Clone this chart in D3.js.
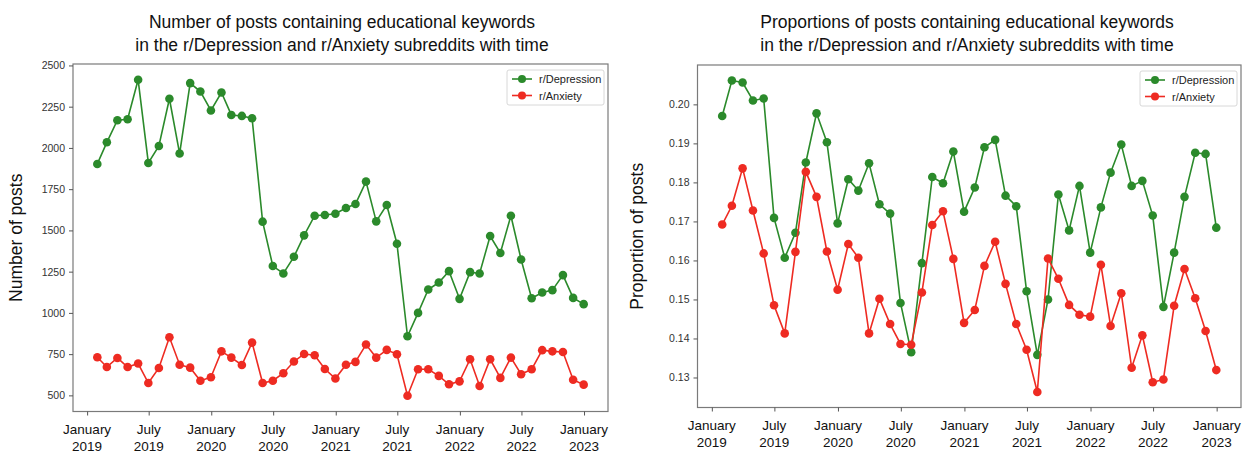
<!DOCTYPE html>
<html><head><meta charset="utf-8">
<script src="https://cdn.jsdelivr.net/npm/d3@7"></script>
<style>
body{margin:0;background:#fff;}
text{font-family:"Liberation Sans",Arial,sans-serif;}
</style></head>
<body><svg id="c" width="1248" height="453"></svg>
<script>
const seriesNames = ["r/Depression","r/Anxiety"];
const countDepression = [1903,2034,2168,2174,2413,1909,2012,2298,1966,2393,2342,2227,2336,2200,2194,2180,1553,1284,1239,1340,1470,1589,1593,1601,1636,1660,1796,1555,1654,1419,858,1000,1142,1184,1253,1085,1247,1239,1466,1363,1589,1324,1089,1124,1138,1229,1091,1053];
const countAnxiety = [731,672,727,672,693,575,666,852,686,668,589,610,767,729,684,820,575,589,634,705,751,743,660,602,686,703,808,729,776,749,498,658,658,618,567,585,719,557,719,606,729,628,658,774,767,763,595,565];
const propDepression = [0.1970,0.2061,0.2056,0.2010,0.2015,0.1709,0.1607,0.1671,0.1851,0.1977,0.1903,0.1695,0.1808,0.1779,0.1849,0.1744,0.1720,0.1491,0.1365,0.1593,0.1814,0.1798,0.1879,0.1725,0.1787,0.1890,0.1909,0.1766,0.1739,0.1521,0.1358,0.1500,0.1769,0.1677,0.1791,0.1620,0.1736,0.1825,0.1897,0.1791,0.1804,0.1715,0.1481,0.1620,0.1763,0.1876,0.1873,0.1684];
const propAnxiety = [0.1692,0.1740,0.1836,0.1728,0.1618,0.1485,0.1413,0.1622,0.1827,0.1763,0.1623,0.1525,0.1642,0.1607,0.1413,0.1502,0.1437,0.1386,0.1384,0.1518,0.1691,0.1726,0.1604,0.1440,0.1473,0.1586,0.1648,0.1540,0.1437,0.1371,0.1263,0.1605,0.1553,0.1486,0.1461,0.1456,0.1589,0.1432,0.1516,0.1325,0.1408,0.1288,0.1295,0.1484,0.1578,0.1503,0.1419,0.1319];
const countTicks = [500,750,1000,1250,1500,1750,2000,2250,2500];
const propTicks = [0.13,0.14,0.15,0.16,0.17,0.18,0.19,0.20];
const xTickMonths = ["January","July","January","July","January","July","January","July","January"];
const xTickYears = ["2019","2019","2020","2020","2021","2021","2022","2022","2023"];
const titlesLeft = ["Number of posts containing educational keywords","in the r/Depression and r/Anxiety subreddits with time"];
const titlesRight = ["Proportions of posts containing educational keywords","in the r/Depression and r/Anxiety subreddits with time"];

// month-end dates
const dates = countDepression.map((_,i)=>new Date(2019, i+1, 0));
const tickDates = xTickYears.map((y,i)=>new Date(+y, xTickMonths[i]==="January"?0:6, 1));
const colors = ["#2b8a2b","#ee2b22"];

const svg = d3.select("#c");

function panel(o){
  const g = svg.append("g");
  const dmin = d3.min(dates), dmax = d3.max(dates);
  const span = dmax - dmin;
  const x = d3.scaleTime().domain([new Date(+dmin - span*0.05), new Date(+dmax + span*0.05)]).range([o.x0,o.x1]);
  const all = o.series.flat();
  const vmin = d3.min(all), vmax = d3.max(all), vr = vmax - vmin;
  const y = d3.scaleLinear().domain([vmin - vr*0.05, vmax + vr*0.05]).range([o.yb,o.yt]);

  // frame
  g.append("rect").attr("x",o.x0).attr("y",o.yt).attr("width",o.x1-o.x0).attr("height",o.yb-o.yt)
    .attr("fill","none").attr("stroke","#7a7a7a").attr("stroke-width",1.2);

  // y axis
  const ya = g.append("g").attr("transform",`translate(${o.x0},0)`)
    .call(d3.axisLeft(y).tickValues(o.ticks).tickFormat(o.fmt).tickSize(4).tickPadding(4));
  ya.select(".domain").remove();
  ya.selectAll("line").attr("stroke","#555");
  ya.selectAll("text").attr("font-size","10.5px").attr("fill","#333").attr("font-family","'Liberation Sans',Arial,sans-serif");

  // x axis
  const xa = g.append("g").attr("transform",`translate(0,${o.yb})`)
    .call(d3.axisBottom(x).tickValues(tickDates).tickFormat(()=>"").tickSize(4));
  xa.select(".domain").remove();
  xa.selectAll("line").attr("stroke","#555");
  tickDates.forEach((d,i)=>{
    const t = g.append("text").attr("x",x(d)).attr("y",o.yb+22).attr("text-anchor","middle")
      .attr("font-size","13.5px").attr("fill","#111");
    t.append("tspan").attr("x",x(d)).attr("dy",0).text(xTickMonths[i]);
    t.append("tspan").attr("x",x(d)).attr("dy",17).text(xTickYears[i]);
  });

  // y label
  g.append("text").attr("transform",`translate(${o.ylabX},${(o.yt+o.yb)/2}) rotate(-90)`)
    .attr("text-anchor","middle").attr("font-size","17.5px").attr("fill","#111").text(o.ylabel);

  // title
  o.titles.forEach((t,i)=>{
    g.append("text").attr("x",o.titleX).attr("y",28+i*23).attr("text-anchor","middle")
      .attr("font-size","17.5px").attr("fill","#111").text(t);
  });

  // series
  const line = d3.line().x((d,i)=>x(dates[i])).y(d=>y(d));
  o.series.forEach((s,k)=>{
    g.append("path").datum(s).attr("d",line).attr("fill","none").attr("stroke",colors[k]).attr("stroke-width",1.6);
    g.selectAll(null).data(s).enter().append("circle")
      .attr("cx",(d,i)=>x(dates[i])).attr("cy",d=>y(d)).attr("r",4.3).attr("fill",colors[k]);
  });

  // legend
  const lx = o.x1 - 101, ly = o.yt + 6;
  g.append("rect").attr("x",lx).attr("y",ly).attr("width",97).attr("height",35).attr("rx",2)
    .attr("fill","#fff").attr("stroke","#d8d8d8");
  seriesNames.forEach((n,k)=>{
    const yy = ly + 9 + k*16.5;
    g.append("line").attr("x1",lx+5).attr("x2",lx+25).attr("y1",yy).attr("y2",yy).attr("stroke",colors[k]).attr("stroke-width",1.6);
    g.append("circle").attr("cx",lx+15).attr("cy",yy).attr("r",4).attr("fill",colors[k]);
    g.append("text").attr("x",lx+32).attr("y",yy+4).attr("font-size","11px").attr("fill","#222").text(n);
  });
}

panel({x0:73,x1:608,yt:64,yb:411.5,series:[countDepression,countAnxiety],ticks:countTicks,fmt:d3.format("d"),
  ylabel:"Number of posts",ylabX:22,titles:titlesLeft,titleX:342});
panel({x0:697.5,x1:1241,yt:65,yb:407.5,series:[propDepression,propAnxiety],ticks:propTicks,fmt:d3.format(".2f"),
  ylabel:"Proportion of posts",ylabX:643,titles:titlesRight,titleX:967});
</script></body></html>
